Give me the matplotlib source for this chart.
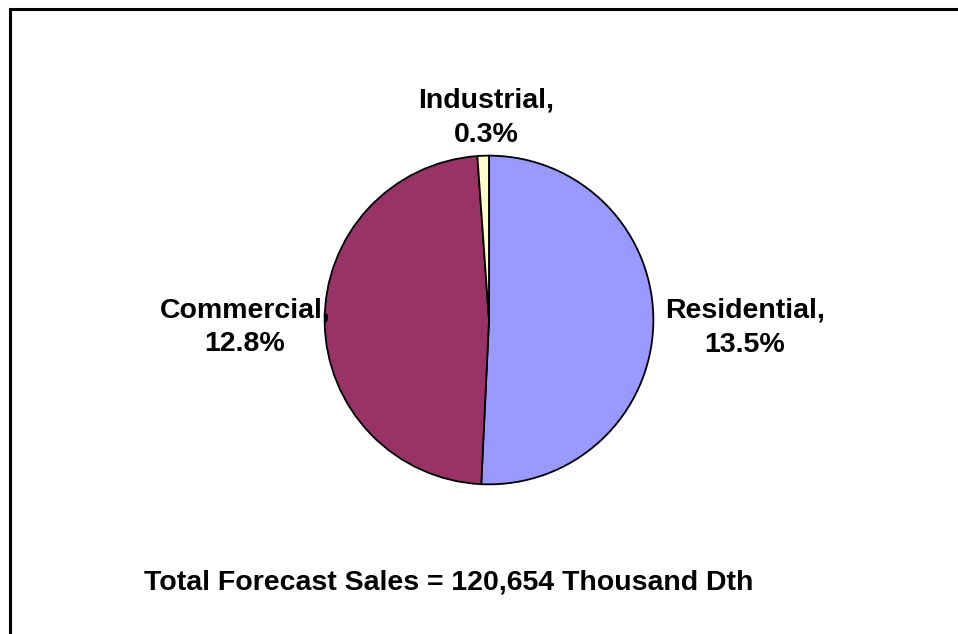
import matplotlib.pyplot as plt
from matplotlib.patches import Rectangle

plt.rcParams["font.family"] = ["Liberation Sans", "DejaVu Sans"]

# forecast share of sales by customer class
categories = ["Residential", "Commercial", "Industrial"]
shares = [13.5, 12.8, 0.3]
colors = ["#9999FF", "#993366", "#FFFFCC"]
total_label = "Total Forecast Sales = 120,654 Thousand Dth"

W, H = 958, 634
fig = plt.figure(figsize=(W / 100, H / 100), dpi=100)

# outer frame (left and top edges visible)
fig.patches.append(Rectangle((9.5 / W, -0.1), 2.0, 1 - 8.5 / H + 0.1,
                             transform=fig.transFigure, fill=False,
                             edgecolor="black", linewidth=2.2))

cx, cy, r = 489, 320, 166
ax = fig.add_axes([(cx - r) / W, (H - cy - r) / H, 2 * r / W, 2 * r / H])
ax.pie(shares, colors=colors, startangle=90, counterclock=False,
       wedgeprops=dict(edgecolor="black", linewidth=1.3))
ax.set_xlim(-1.01, 1.01)
ax.set_ylim(-1.01, 1.01)
ax.set_aspect("equal")
ax.axis("off")

# label x centre and baselines of the two lines, pixels from top-left
label_pos = [(745, 317, 352), (245, 317, 351), (486, 107, 142)]
for name, val, (px, y1, y2) in zip(categories, shares, label_pos):
    fig.text(px / W, 1 - y1 / H, f"{name},", ha="center", va="baseline",
             fontsize=20.5, fontweight="bold")
    fig.text(px / W, 1 - y2 / H, f"{val}%", ha="center", va="baseline",
             fontsize=20.5, fontweight="bold")

fig.text(449 / W, 1 - 589 / H, total_label, ha="center", va="baseline",
         fontsize=20.5, fontweight="bold")

fig.savefig("out.png", dpi=100)
